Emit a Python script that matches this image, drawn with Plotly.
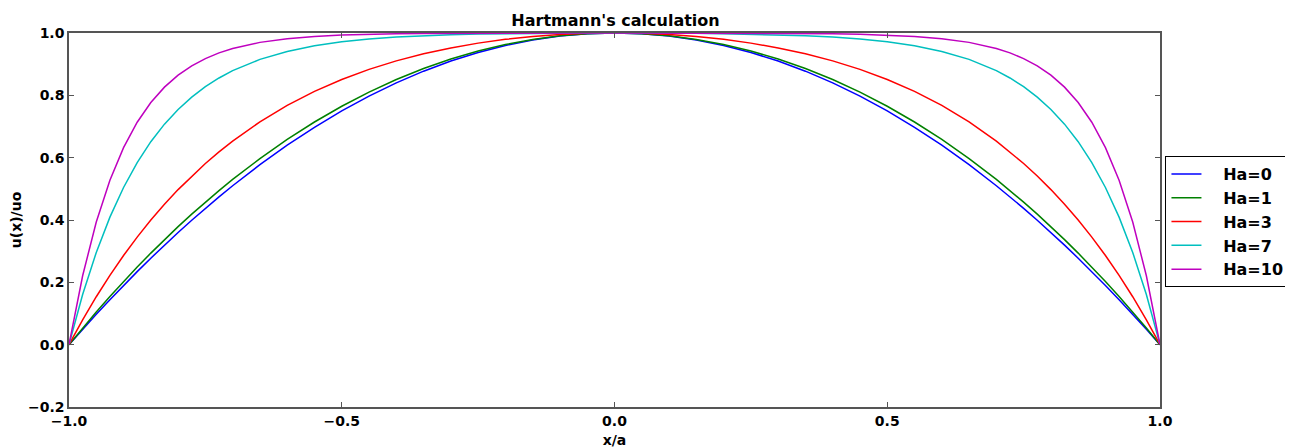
import plotly.graph_objects as go

x_vals = [-1.0, -0.975, -0.95, -0.925, -0.9, -0.875, -0.85, -0.825, -0.8, -0.775, -0.75, -0.725,
          -0.7, -0.65, -0.6, -0.55, -0.5, -0.45, -0.4, -0.35, -0.3, -0.25, -0.2, -0.15, -0.1, -0.05,
          0.0,
          0.05, 0.1, 0.15, 0.2, 0.25, 0.3, 0.35, 0.4, 0.45, 0.5, 0.55, 0.6, 0.65, 0.7,
          0.725, 0.75, 0.775, 0.8, 0.825, 0.85, 0.875, 0.9, 0.925, 0.95, 0.975, 1.0]

ha0 = [0.0, 0.0494, 0.0975, 0.1444, 0.19, 0.2344, 0.2775, 0.3194, 0.36, 0.3994, 0.4375, 0.4744,
       0.51, 0.5775, 0.64, 0.6975, 0.75, 0.7975, 0.84, 0.8775, 0.91, 0.9375, 0.96, 0.9775, 0.99, 0.9975,
       1.0,
       0.9975, 0.99, 0.9775, 0.96, 0.9375, 0.91, 0.8775, 0.84, 0.7975, 0.75, 0.6975, 0.64, 0.5775, 0.51,
       0.4744, 0.4375, 0.3994, 0.36, 0.3194, 0.2775, 0.2344, 0.19, 0.1444, 0.0975, 0.0494, 0.0]

ha1 = [0.0, 0.0532, 0.1047, 0.1545, 0.2025, 0.2490, 0.2938, 0.3371, 0.3787, 0.4188, 0.4574, 0.4944,
       0.5302, 0.5971, 0.6585, 0.7144, 0.7650, 0.8104, 0.8507, 0.8861, 0.9165, 0.9422, 0.9631, 0.9793, 0.9908, 0.9977,
       1.0,
       0.9977, 0.9908, 0.9793, 0.9631, 0.9422, 0.9165, 0.8861, 0.8507, 0.8104, 0.7650, 0.7144, 0.6585, 0.5971, 0.5302,
       0.4944, 0.4574, 0.4188, 0.3787, 0.3371, 0.2938, 0.2490, 0.2025, 0.1545, 0.1047, 0.0532, 0.0]

ha3 = [0.0, 0.0798, 0.1538, 0.2225, 0.2861, 0.3451, 0.3998, 0.4505, 0.4975, 0.5410, 0.5813, 0.6187,
       0.6532, 0.7149, 0.7676, 0.8126, 0.8509, 0.8833, 0.9106, 0.9334, 0.9522, 0.9675, 0.9796, 0.9886, 0.9950, 0.9988,
       1.0,
       0.9988, 0.9950, 0.9886, 0.9796, 0.9675, 0.9522, 0.9334, 0.9106, 0.8833, 0.8509, 0.8126, 0.7676, 0.7149, 0.6532,
       0.6187, 0.5813, 0.5410, 0.4975, 0.4505, 0.3998, 0.3451, 0.2861, 0.2225, 0.1538, 0.0798, 0.0]

ha7 = [0.0, 0.1608, 0.2959, 0.4092, 0.5043, 0.5842, 0.6513, 0.7075, 0.7548, 0.7944, 0.8277, 0.8557,
       0.8791, 0.9154, 0.9409, 0.9589, 0.9716, 0.9805, 0.9868, 0.9912, 0.9943, 0.9964, 0.9979, 0.9989, 0.9995, 0.9999,
       1.0,
       0.9999, 0.9995, 0.9989, 0.9979, 0.9964, 0.9943, 0.9912, 0.9868, 0.9805, 0.9716, 0.9589, 0.9409, 0.9154, 0.8791,
       0.8557, 0.8277, 0.7944, 0.7548, 0.7075, 0.6513, 0.5842, 0.5043, 0.4092, 0.2959, 0.1608, 0.0]

ha10 = [0.0, 0.2212, 0.3935, 0.5277, 0.6322, 0.7136, 0.7769, 0.8263, 0.8647, 0.8947, 0.9180, 0.9362,
        0.9503, 0.9699, 0.9818, 0.9890, 0.9934, 0.9960, 0.9976, 0.9986, 0.9992, 0.9995, 0.9998, 0.9999, 1.0, 1.0,
        1.0,
        1.0, 1.0, 0.9999, 0.9998, 0.9995, 0.9992, 0.9986, 0.9976, 0.9960, 0.9934, 0.9890, 0.9818, 0.9699, 0.9503,
        0.9362, 0.9180, 0.8947, 0.8647, 0.8263, 0.7769, 0.7136, 0.6322, 0.5277, 0.3935, 0.2212, 0.0]

series_names = ["Ha=0", "Ha=1", "Ha=3", "Ha=7", "Ha=10"]
series_values = [ha0, ha1, ha3, ha7, ha10]
series_colors = ["#0000ff", "#008000", "#ff0000", "#00bfbf", "#bf00bf"]

x_ticks = [-1.0, -0.5, 0.0, 0.5, 1.0]
y_ticks = [-0.2, 0.0, 0.2, 0.4, 0.6, 0.8, 1.0]

# the page body adds an 8px offset; plot area kept at page x 68..1160, y 33..407
FIG_W, FIG_H = 1293, 440
ML, MR, MT, MB = 61, 139, 25, 41

fig = go.Figure()
for name, vals, col in zip(series_names, series_values, series_colors):
    fig.add_trace(go.Scatter(x=x_vals, y=vals, mode="lines", name="\u00a0\u00a0\u00a0" + name,
                             line=dict(color=col, width=1.5)))

axis_common = dict(showline=True, linecolor="#555555", linewidth=1.5, mirror="ticks",
                   ticks="inside", ticklen=5, tickwidth=1, tickcolor="#555555",
                   showgrid=False, zeroline=False, automargin=False,
                   tickfont=dict(family="DejaVu Sans", size=14, color="black", weight="bold"))

fig.update_layout(
    width=FIG_W, height=FIG_H,
    margin=dict(l=ML, r=MR, t=MT, b=MB),
    paper_bgcolor="white", plot_bgcolor="white",
    title=dict(text="Hartmann's calculation", x=(ML + FIG_W - MR) / 2 / FIG_W, xanchor="center",
               y=1 - 12.5 / FIG_H, yanchor="middle",
               font=dict(family="DejaVu Sans", size=16, color="black", weight="bold")),
    xaxis=dict(range=[-1, 1], tickvals=x_ticks, tickformat=".1f",
               title=dict(text="x/a", standoff=12,
                          font=dict(family="DejaVu Sans", size=14, color="black", weight="bold")),
               **axis_common),
    yaxis=dict(range=[-0.2, 1.0], tickvals=y_ticks, tickformat=".1f",
               title=dict(text="u(x)/uo", standoff=8,
                          font=dict(family="DejaVu Sans", size=14, color="black", weight="bold")),
               **axis_common),
    legend=dict(x=1.005, xanchor="left", y=0.671, yanchor="top",
                bordercolor="black", borderwidth=1, bgcolor="white",
                font=dict(family="DejaVu Sans", size=16, color="black", weight="bold"),
                tracegroupgap=0),
    showlegend=True,
)

fig.write_html("out.html")
